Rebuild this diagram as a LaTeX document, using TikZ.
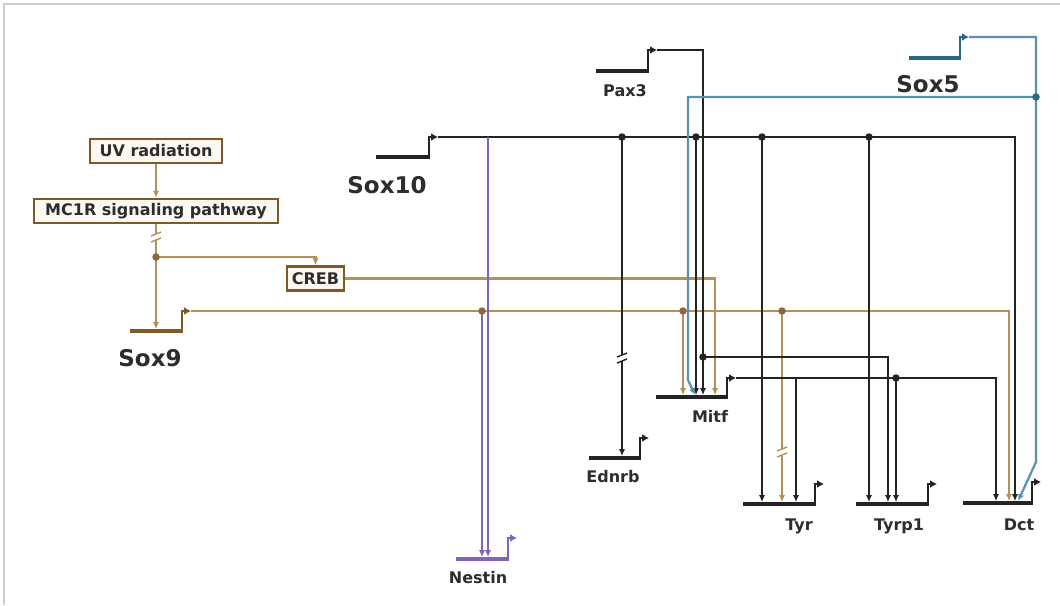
\documentclass[tikz,border=0pt]{standalone}
\usepackage{fontspec}
\setmainfont{DejaVu Sans}
\usetikzlibrary{arrows.meta}
\definecolor{sxblk}{RGB}{35,35,35}
\definecolor{sxtan}{RGB}{180,145,90}
\definecolor{sxtandot}{RGB}{140,105,60}
\definecolor{sxbox}{RGB}{125,90,40}
\definecolor{sxboxfill}{RGB}{252,249,242}
\definecolor{sxteal}{RGB}{90,145,172}
\definecolor{sxteald}{RGB}{45,105,125}
\definecolor{sxpur}{RGB}{130,100,190}
\definecolor{sxtxt}{RGB}{45,45,45}
\definecolor{sxframe}{RGB}{205,205,205}
\tikzset{
 wire/.style={line width=2.2pt, line join=miter},
 conn/.style={wire, -{Latex[length=7pt,width=6pt]}},
 genebar/.style={line width=3.4pt},
 promo/.style={line width=2.2pt, -{Latex[length=7pt,width=8pt]}},
 jdot/.style={circle, fill, inner sep=0pt, minimum size=7.5pt},
 biglab/.style={font=\fontsize{23}{23}\selectfont\bfseries, text=sxtxt, inner sep=0pt, anchor=base},
 smlab/.style={font=\fontsize{16}{16}\selectfont\bfseries, text=sxtxt, inner sep=0pt, anchor=base},
 sigbox/.style={draw=sxbox, line width=2.2pt, fill=sxboxfill, font=\fontsize{16}{16}\selectfont\bfseries, text=sxtxt, inner xsep=4pt, inner ysep=0pt, minimum height=24pt},
}
\newcommand{\genesym}[6]{%
 \coordinate (#1-l) at (#2,#4);
 \coordinate (#1-s) at (#3,#4);
 \coordinate (#1-t) at (#3,#5);
 \coordinate (#1-o) at (#3+9,#5);
 \draw[genebar,#6] (#1-l) -- (#1-s);
 \draw[line width=2.2pt,#6] ([yshift=-1.7pt]#1-s) -- (#1-t);
 \draw[promo,#6] ([xshift=-1.1pt]#1-t) -- (#1-o);
}
\newcommand{\brkmark}[3]{%
 \fill[white] (#1-5,#2-1) -- (#1+5,#2-5) -- (#1+5,#2+1) -- (#1-5,#2+5) -- cycle;
 \draw[line width=1.4pt,#3] (#1-5,#2-1) -- (#1+5,#2-5);
 \draw[line width=1.4pt,#3] (#1-5,#2+5) -- (#1+5,#2+1);
}
\begin{document}
\begin{tikzpicture}[x=1pt,y=-1pt]
\useasboundingbox (0,0) rectangle (1060,605);
\fill[white] (0,0) rectangle (1060,605);
\draw[sxframe, line width=1.2pt] (1060,4) -- (4,4) -- (4,605);

% genes
\genesym{sox10}{376}{429}{157}{137}{sxblk}
\genesym{pax3}{596}{648}{71}{50}{sxblk}
\genesym{sox5}{909}{960}{58}{37}{sxteald}
\genesym{sox9}{130}{182}{331}{311}{sxbox}
\genesym{mitf}{656}{727}{397}{378}{sxblk}
\genesym{ednrb}{589}{640}{458}{438}{sxblk}
\genesym{nestin}{456}{508}{559}{538}{sxpur}
\genesym{tyr}{743}{815}{504}{484}{sxblk}
\genesym{tyrp1}{856}{928}{504}{484}{sxblk}
\genesym{dct}{963}{1032}{503}{482}{sxblk}

% labels
\node[biglab] (Lsox10) at (387,193) {Sox10};
\node[biglab] (Lsox9) at (150,366) {Sox9};
\node[biglab] (Lsox5) at (928,92) {Sox5};
\node[smlab] (Lpax3) at (625,96) {Pax3};
\node[smlab] (Lmitf) at (710,422) {Mitf};
\node[smlab] (Lednrb) at (613,482) {Ednrb};
\node[smlab] (Lnestin) at (478,583) {Nestin};
\node[smlab] (Ltyr) at (799,530) {Tyr};
\node[smlab] (Ltyrp1) at (899,530) {Tyrp1};
\node[smlab] (Ldct) at (1019,530) {Dct};

% signal boxes
\node[sigbox, minimum width=132pt] (uv) at (156,151) {UV radiation};
\node[sigbox, minimum width=244pt] (mc1r) at (156,211) {MC1R signaling pathway};
\node[sigbox, minimum width=57pt] (creb) at (315.5,278.5) {CREB};

% junction and input coordinates
\coordinate (jmc) at (156,257);
\coordinate (sox9-in) at (156,329.2);
\coordinate (j9nes) at (482,311);
\coordinate (j9mitf) at (683,311);
\coordinate (j9tyr) at (782,311);
\coordinate (j10nes) at (488,137);
\coordinate (j10ed) at (622,137);
\coordinate (j10mitf) at (696,137);
\coordinate (j10tyr) at (762,137);
\coordinate (j10tp) at (869,137);
\coordinate (jpax) at (703,357);
\coordinate (jmtyr) at (796,378);
\coordinate (jmtp) at (896,378);
\coordinate (j5) at (1036,97);
\coordinate (t5bend) at (1036,462);
\coordinate (m5bend) at (688,380);

\coordinate (mitf-a) at (683,395.2);
\coordinate (mitf-b) at (695,395.2);
\coordinate (mitf-c) at (696,395.2);
\coordinate (mitf-d) at (703,395.2);
\coordinate (mitf-e) at (715,395.2);
\coordinate (ednrb-a) at (622,456.2);
\coordinate (nestin-a) at (482,557.2);
\coordinate (nestin-b) at (488,557.2);
\coordinate (tyr-a) at (762,502.2);
\coordinate (tyr-b) at (782,502.2);
\coordinate (tyr-c) at (796,502.2);
\coordinate (tp-a) at (869,502.2);
\coordinate (tp-b) at (888,502.2);
\coordinate (tp-c) at (896,502.2);
\coordinate (dct-a) at (996,501.2);
\coordinate (dct-b) at (1009,501.2);
\coordinate (dct-c) at (1015,501.2);
\coordinate (dct-d) at (1018,501.2);

% tan (Sox9 / MC1R) connectors
\draw[conn,sxtan] (uv.south) -- (mc1r.north);
\draw[conn,sxtan] (mc1r.south) -- (sox9-in);
\draw[conn,sxtan] (jmc) -| (creb.north);
\draw[conn,sxtan] (creb.east) -| (mitf-e);
\draw[conn,sxtan] (sox9-o) -| (dct-b);
\draw[conn,sxtan] (j9mitf) -- (mitf-a);
\draw[conn,sxtan] (j9tyr) -- (tyr-b);
\draw[conn,sxpur] (j9nes) -- (nestin-a);

% black (Sox10) connectors
\draw[conn,sxblk] (sox10-o) -| (dct-c);
\draw[conn,sxpur] (j10nes) -- (nestin-b);
\draw[conn,sxblk] (j10ed) -- (ednrb-a);
\draw[conn,sxblk] (j10mitf) -- (mitf-c);
\draw[conn,sxblk] (j10tyr) -- (tyr-a);
\draw[conn,sxblk] (j10tp) -- (tp-a);

% Pax3
\draw[conn,sxblk] (pax3-o) -| (mitf-d);
\draw[conn,sxblk] (jpax) -| (tp-b);

% Mitf
\draw[conn,sxblk] (mitf-o) -| (dct-a);
\draw[conn,sxblk] (jmtyr) -- (tyr-c);
\draw[conn,sxblk] (jmtp) -- (tp-c);

% Sox5 (teal)
\draw[conn,sxteal] (sox5-o) -| (t5bend) -- (dct-d);
\draw[conn,sxteal] (j5) -| (m5bend) -- (mitf-b);

% break marks
\brkmark{156}{237}{sxtan}
\brkmark{622}{358}{sxblk}
\brkmark{782}{452}{sxtan}

% junction dots
\node[jdot,sxtandot] at (jmc) {};
\node[jdot,sxtandot] at (j9nes) {};
\node[jdot,sxtandot] at (j9mitf) {};
\node[jdot,sxtandot] at (j9tyr) {};
\node[jdot,sxblk] at (j10ed) {};
\node[jdot,sxblk] at (j10mitf) {};
\node[jdot,sxblk] at (j10tyr) {};
\node[jdot,sxblk] at (j10tp) {};
\node[jdot,sxblk] at (jpax) {};
\node[jdot,sxblk] at (jmtp) {};
\node[jdot,sxteald] at (j5) {};
\end{tikzpicture}
\end{document}
